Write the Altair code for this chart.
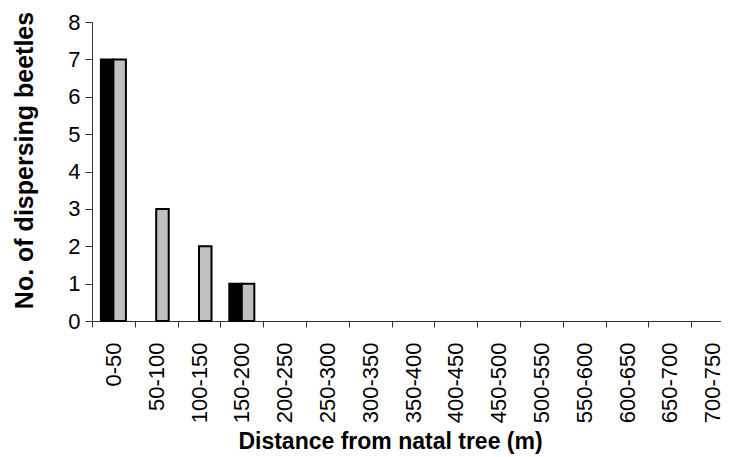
import altair as alt
import pandas as pd

categories = ["0-50", "50-100", "100-150", "150-200", "200-250", "250-300", "300-350",
              "350-400", "400-450", "450-500", "500-550", "550-600", "600-650", "650-700", "700-750"]
series_names = ["A", "B"]
black_vals = [7, 0, 0, 1, 0, 0, 0, 0, 0, 0, 0, 0, 0, 0, 0]
gray_vals = [7, 3, 2, 1, 0, 0, 0, 0, 0, 0, 0, 0, 0, 0, 0]

rows = []
for c, b, g in zip(categories, black_vals, gray_vals):
    rows.append({"cat": c, "series": series_names[0], "value": b})
    rows.append({"cat": c, "series": series_names[1], "value": g})
df = pd.DataFrame(rows)

bars = alt.Chart(df).transform_filter(alt.datum.value > 0).mark_bar(
    stroke="black", strokeWidth=2
).encode(
    x=alt.X("cat:N", sort=categories,
            scale=alt.Scale(domain=categories, range=[0, 642], paddingInner=0, paddingOuter=0),
            axis=alt.Axis(title="Distance from natal tree (m)", labelAngle=270,
                          tickBand="extent", tickSize=6, labelPadding=15,
                          titleFontSize=23, titleBaseline="alphabetic", titleAlign="center",
                          titleX=298, titleY=127, labelOverlap=False)),
    xOffset=alt.XOffset("series:N", scale=alt.Scale(domain=series_names, paddingOuter=0.71, paddingInner=0)),
    y=alt.Y("value:Q", scale=alt.Scale(domain=[0, 8]),
            axis=alt.Axis(title="No. of dispersing beetles", values=list(range(9)),
                          grid=False, tickSize=7, labelPadding=5,
                          titleFontSize=25, titleAngle=270, titleBaseline="alphabetic",
                          titleAlign="center", titleX=-60, titleY=138,
                          labelOverlap=False)),
    color=alt.Color("series:N", scale=alt.Scale(domain=series_names, range=["#000000", "#c0c0c0"]),
                    legend=None),
)

chart = bars.properties(
    width=629, height=299,
    autosize=alt.AutoSizeParams(type="none"),
    padding={"left": 84, "top": 14, "right": 0, "bottom": 135},
).configure_view(stroke=None).configure_axis(
    domainColor="#333333", tickColor="#333333", labelColor="#000000", titleColor="#000000",
    labelFont="Liberation Sans", titleFont="Liberation Sans",
    labelFontSize=22, titleFontWeight="bold", grid=False,
    domainWidth=1, tickWidth=1
)

chart.save("out.html", embed_options={"renderer": "svg", "actions": False})
